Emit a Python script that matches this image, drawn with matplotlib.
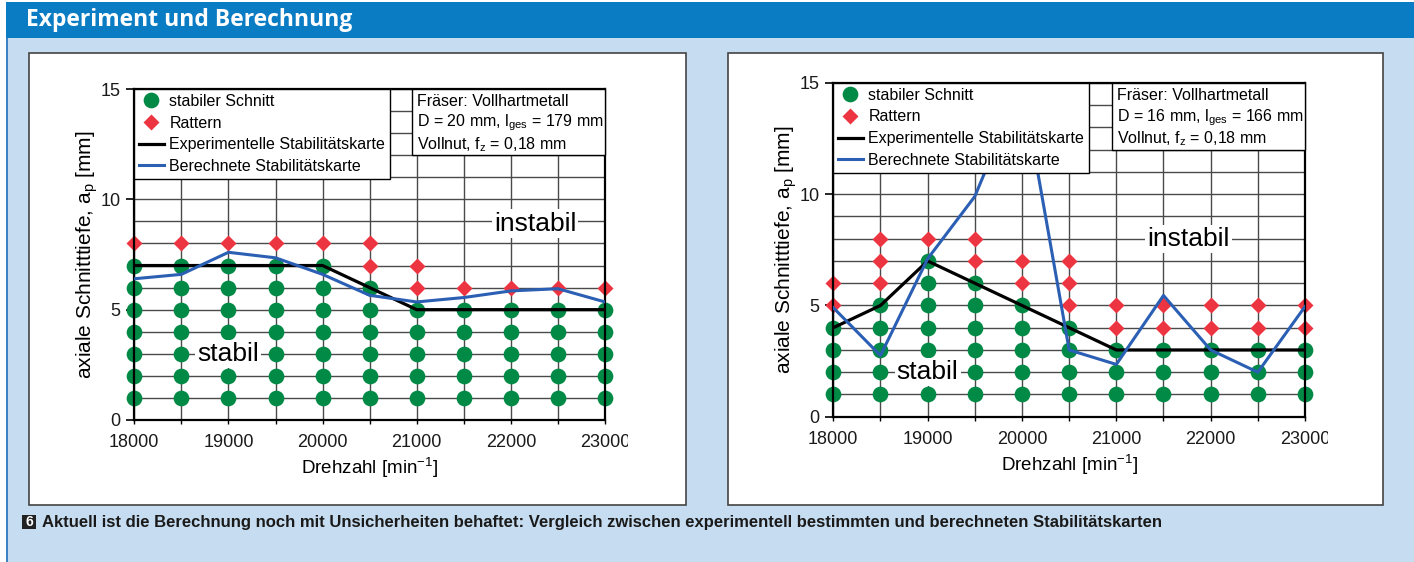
import matplotlib
matplotlib.use('Agg')
import matplotlib.pyplot as plt
from matplotlib.patches import Rectangle
from matplotlib.lines import Line2D
from matplotlib.transforms import Bbox, TransformedBbox

plt.rcParams['font.family'] = ['Liberation Sans', 'DejaVu Sans']
plt.rcParams['mathtext.fontset'] = 'custom'
plt.rcParams['mathtext.rm'] = 'Liberation Sans'

W, H = 1414, 562

# Drehzahl in min^-1
drehzahl = [18000, 18500, 19000, 19500, 20000, 20500, 21000, 21500, 22000, 22500, 23000]

# links: D = 20 mm
stabil_bis_l = [7, 7, 7, 7, 7, 6, 5, 5, 5, 5, 5]
rattern_l = [[8], [8], [8], [8], [8], [7, 8], [6, 7], [6], [6], [6], [6]]
exp_l = [7, 7, 7, 7, 7, 6, 5, 5, 5, 5, 5]
ber_l = [6.4, 6.6, 7.6, 7.35, 6.6, 5.65, 5.35, 5.55, 5.85, 5.95, 5.35]
info_l = ['Fräser: Vollhartmetall', 'D = 20 mm, l$_{\\mathregular{ges}}$ = 179 mm',
          'Vollnut, f$_{\\mathregular{z}}$ = 0,18 mm']

# rechts: D = 16 mm
stabil_bis_r = [4, 5, 7, 6, 5, 4, 3, 3, 3, 3, 3]
rattern_r = [[5, 6], [6, 7, 8], [8], [7, 8], [6, 7], [5, 6, 7], [4, 5], [4, 5], [4, 5], [4, 5], [4, 5]]
exp_r = [4, 5, 7, 6, 5, 4, 3, 3, 3, 3, 3]
ber_r = [4.9, 2.75, 7.1, 9.9, 15.0, 3.0, 2.35, 5.45, 3.0, 2.0, 4.95]
info_r = ['Fräser: Vollhartmetall', 'D = 16 mm, l$_{\\mathregular{ges}}$ = 166 mm',
          'Vollnut, f$_{\\mathregular{z}}$ = 0,18 mm']

GREEN = '#008a45'
RED = '#ec3540'
BLUE = '#2b5fb4'

fig = plt.figure(figsize=(W / 100, H / 100), dpi=100)
fig.patch.set_facecolor('white')


def rect(x0, y0, x1, y1, **kw):
    fig.add_artist(Rectangle((x0 / W, 1 - y1 / H), (x1 - x0) / W, (y1 - y0) / H,
                             transform=fig.transFigure, zorder=-10, **kw))


rect(6, 2, 1414, 38, fc='#0a7cc4', ec='none')
rect(6, 38, 1414, 562, fc='#c6dcf0', ec='none')
rect(6, 38, 8, 562, fc='#3c82c4', ec='none')
rect(29, 53, 686, 505, fc='white', ec='#444444', lw=1.2)
rect(728, 53, 1383, 505, fc='white', ec='#444444', lw=1.2)

fig.text(26 / W, 1 - 20 / H, 'Experiment und Berechnung', color='white', fontsize=16.5,
         fontweight='bold', va='center', family=['Open Sans', 'DejaVu Sans'])

rect(22, 515, 36, 529, fc='#222222', ec='none')
fig.text(29 / W, 1 - 522 / H, '6', color='white', fontsize=10, fontweight='bold',
         ha='center', va='center')
fig.text(42 / W, 1 - 522 / H,
         'Aktuell ist die Berechnung noch mit Unsicherheiten behaftet: Vergleich zwischen '
         'experimentell bestimmten und berechneten Stabilitätskarten',
         color='#1a1a1a', fontsize=12, fontweight='bold', va='center',
         family=['Liberation Sans', 'DejaVu Sans'])


def draw_chart(ax, stabil_bis, rattern, exp, ber, info, instabil_pos, stabil_pos, clip_x):
    ax.set_xlim(18000, 23000)
    ax.set_ylim(0, 15)
    ax.set_xticks(range(18000, 23001, 1000))
    ax.set_xticks(range(18500, 23000, 1000), minor=True)
    ax.set_yticks([0, 5, 10, 15])
    ax.set_yticks([1, 2, 3, 4, 6, 7, 8, 9, 11, 12, 13, 14], minor=True)
    ax.set_axisbelow(True)
    ax.grid(True, which='both', color='#4a4a4a', lw=1.0)
    for s in ax.spines.values():
        s.set_linewidth(1.6)
        s.set_color('black')

    for x, top, rat in zip(drehzahl, stabil_bis, rattern):
        ax.plot([x] * top, list(range(1, top + 1)), 'o', ms=11.3, color=GREEN, mec='none',
                clip_on=False, zorder=2)
        ax.plot([x] * len(rat), rat, 'D', ms=7.8, color=RED, mec='none',
                clip_on=False, zorder=2)
    ax.plot(drehzahl, exp, color='black', lw=2.3, zorder=3)
    ax.plot(drehzahl, ber, color=BLUE, lw=2.2, zorder=3.5)

    handles = [Line2D([], [], marker='o', ls='none', ms=11.3, color=GREEN, mec='none'),
               Line2D([], [], marker='D', ls='none', ms=7.8, color=RED, mec='none'),
               Line2D([], [], color='black', lw=2.3),
               Line2D([], [], color=BLUE, lw=2.2)]
    labels = ['stabiler Schnitt', 'Rattern', 'Experimentelle Stabilitätskarte',
              'Berechnete Stabilitätskarte']
    leg = ax.legend(handles, labels, loc='upper left', bbox_to_anchor=(0, 1),
                    borderaxespad=0, fancybox=False, edgecolor='black', framealpha=1,
                    fontsize=11.5, handlelength=1.55, handletextpad=0.35,
                    labelspacing=0.42, borderpad=0.3)
    leg.get_frame().set_linewidth(1.0)
    leg.set_zorder(6)

    ax.add_patch(Rectangle((20950, 12), 2050, 3, fc='white', ec='black', lw=1.0,
                           zorder=5, clip_on=False))
    for y, s in zip([14.42, 13.46, 12.5], info):
        ax.text(21005, y, s, fontsize=11.5, va='center', zorder=6)

    ax.text(*instabil_pos, 'instabil', fontsize=19, ha='center', va='center', zorder=6,
            bbox=dict(fc='white', ec='none', pad=1.5))
    ax.text(*stabil_pos, 'stabil', fontsize=19, ha='center', va='center', zorder=6,
            bbox=dict(fc='white', ec='none', pad=1.5))

    ax.tick_params(axis='x', which='both', direction='out', length=3, width=1,
                   labelsize=13, pad=7, labelcolor='#1a1a1a')
    ax.tick_params(axis='y', which='major', direction='out', length=6, width=1.2,
                   labelsize=13, pad=4, labelcolor='#1a1a1a')
    ax.tick_params(axis='y', which='minor', length=0)
    ax.set_xlabel('Drehzahl [min$^{\\mathregular{-1}}$]', fontsize=13.5, labelpad=3)
    ax.set_ylabel('axiale Schnitttiefe, a$_{\\mathregular{p}}$ [mm]', fontsize=15, labelpad=0)

    # letzte Beschriftung ist im Original abgeschnitten
    last = ax.xaxis.get_major_ticks()[-1].label1
    last.set_clip_box(TransformedBbox(Bbox([[0, 0], [clip_x / W, 1]]), fig.transFigure))
    last.set_clip_on(True)


ax1 = fig.add_axes([134.3 / W, 1 - 420 / H, 470.7 / W, 331 / H])
draw_chart(ax1, stabil_bis_l, rattern_l, exp_l, ber_l, info_l, (22256, 8.9), (19000, 3.0), 628)

ax2 = fig.add_axes([833.3 / W, 1 - 416.7 / H, 471.7 / W, 333.7 / H])
draw_chart(ax2, stabil_bis_r, rattern_r, exp_r, ber_r, info_r, (21768, 8.0), (19000, 2.0), 1328)

fig.savefig('out.png', dpi=100)
